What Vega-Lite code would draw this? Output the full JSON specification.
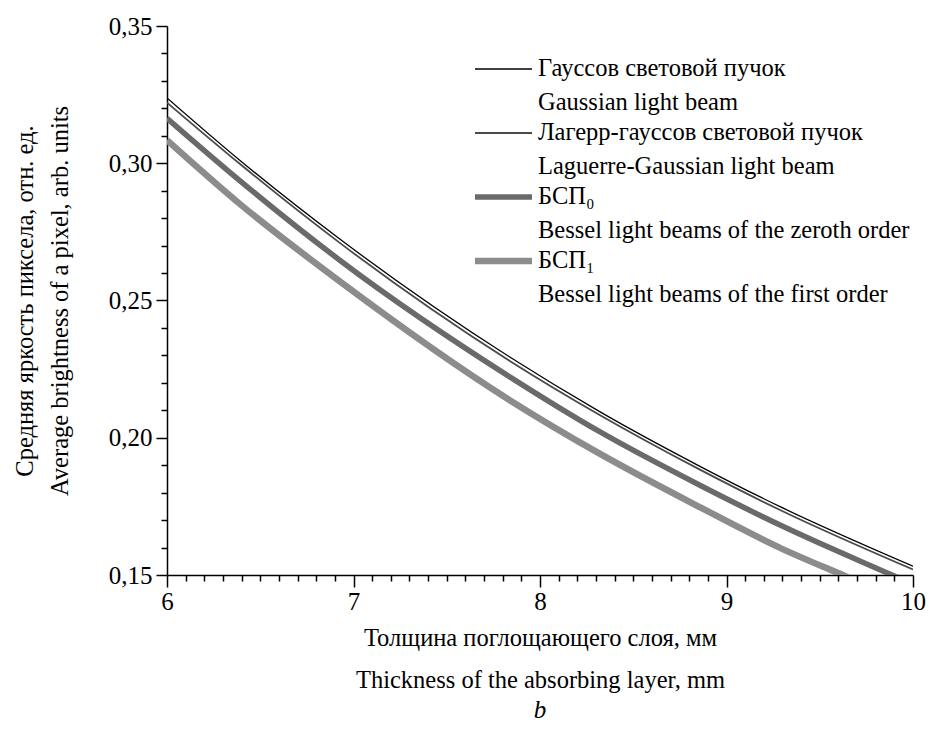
{
  "$schema": "https://vega.github.io/schema/vega-lite/v6.json",
  "autosize": {"type": "none"},
  "padding": {"left": 167, "top": 26, "right": 17, "bottom": 156},
  "width": 746,
  "height": 549,
  "background": "white",
  "config": {
    "font": "Liberation Serif, Times New Roman, serif",
    "view": {"stroke": null},
    "axis": {"domainColor": "black", "domainWidth": 1.5, "tickColor": "black", "tickWidth": 1.5, "labelColor": "black", "titleColor": "black", "labelFont": "Liberation Serif, Times New Roman, serif", "titleFont": "Liberation Serif, Times New Roman, serif", "grid": false, "titleFontWeight": "normal"},
    "legend": {"labelFont": "Liberation Serif, Times New Roman, serif"}
  },
  "title": {"text": "b", "orient": "bottom", "fontStyle": "italic", "fontWeight": "normal", "fontSize": 25, "font": "Liberation Serif, Times New Roman, serif", "color": "black", "offset": 6},
  "data": {
    "values": [
      {"x": 6, "y": 0.3238, "s": "G"},
      {"x": 6.39, "y": 0.3011, "s": "G"},
      {"x": 6.93, "y": 0.2722, "s": "G"},
      {"x": 7.84, "y": 0.2293, "s": "G"},
      {"x": 8.32, "y": 0.2095, "s": "G"},
      {"x": 8.86, "y": 0.1895, "s": "G"},
      {"x": 9.29, "y": 0.1748, "s": "G"},
      {"x": 10, "y": 0.1532, "s": "G"},
      {"x": 6, "y": 0.3221, "s": "LG"},
      {"x": 6.39, "y": 0.2998, "s": "LG"},
      {"x": 6.93, "y": 0.2708, "s": "LG"},
      {"x": 7.84, "y": 0.2279, "s": "LG"},
      {"x": 8.32, "y": 0.2083, "s": "LG"},
      {"x": 8.86, "y": 0.1883, "s": "LG"},
      {"x": 9.29, "y": 0.1736, "s": "LG"},
      {"x": 10, "y": 0.1520, "s": "LG"},
      {"x": 6, "y": 0.3164, "s": "B0"},
      {"x": 6.39, "y": 0.2937, "s": "B0"},
      {"x": 6.93, "y": 0.2645, "s": "B0"},
      {"x": 7.84, "y": 0.2221, "s": "B0"},
      {"x": 8.32, "y": 0.2022, "s": "B0"},
      {"x": 8.86, "y": 0.1826, "s": "B0"},
      {"x": 9.29, "y": 0.1681, "s": "B0"},
      {"x": 9.9, "y": 0.1496, "s": "B0"},
      {"x": 10, "y": 0.1466, "s": "B0"},
      {"x": 6, "y": 0.3084, "s": "B1"},
      {"x": 6.39, "y": 0.2852, "s": "B1"},
      {"x": 6.93, "y": 0.2568, "s": "B1"},
      {"x": 7.84, "y": 0.2136, "s": "B1"},
      {"x": 8.32, "y": 0.1942, "s": "B1"},
      {"x": 8.86, "y": 0.1746, "s": "B1"},
      {"x": 9.29, "y": 0.1598, "s": "B1"},
      {"x": 9.65, "y": 0.1492, "s": "B1"},
      {"x": 10, "y": 0.1390, "s": "B1"}
    ]
  },
  "mark": {"type": "line", "interpolate": "monotone", "clip": true},
  "encoding": {
    "x": {
      "field": "x", "type": "quantitative",
      "scale": {"domain": [6, 10], "nice": false, "zero": false},
      "axis": {
        "values": [6,6.1,6.2,6.3,6.4,6.5,6.6,6.7,6.8,6.9,7,7.1,7.2,7.3,7.4,7.5,7.6,7.7,7.8,7.9,8,8.1,8.2,8.3,8.4,8.5,8.6,8.7,8.8,8.9,9,9.1,9.2,9.3,9.4,9.5,9.6,9.7,9.8,9.9,10],
        "tickSize": {"expr": "abs(round(datum.value*10)) % 10 == 0 ? 12 : 6"},
        "labelExpr": "abs(round(datum.value*10)) % 10 == 0 ? format(datum.value, 'd') : ''",
        "labelOverlap": false,
        "labelFontSize": 25,
        "labelPadding": 2,
        "labelFlush": false,
        "title": ["Толщина поглощающего слоя, мм", "Thickness of the absorbing layer, mm"],
        "titleFontSize": 24.5,
        "titleLineHeight": 42,
        "titlePadding": 12
      }
    },
    "y": {
      "field": "y", "type": "quantitative",
      "scale": {"domain": [0.15, 0.35], "nice": false, "zero": false},
      "axis": {
        "values": [0.15,0.16,0.17,0.18,0.19,0.2,0.21,0.22,0.23,0.24,0.25,0.26,0.27,0.28,0.29,0.3,0.31,0.32,0.33,0.34,0.35],
        "tickSize": {"expr": "abs(round(datum.value*100)) % 5 == 0 ? 11 : 6"},
        "labelExpr": "abs(round(datum.value*100)) % 5 == 0 ? replace(format(datum.value, '.2f'), '.', ',') : ''",
        "labelOverlap": false,
        "labelFontSize": 25,
        "labelPadding": 4,
        "labelFlush": false,
        "title": ["Средняя яркость пиксела, отн. ед.", "Average brightness of a pixel, arb. units"],
        "titleFontSize": 24.5,
        "titleLineHeight": 35,
        "titlePadding": 36
      }
    },
    "color": {
      "field": "s", "type": "ordinal",
      "scale": {"domain": ["G", "LG", "B0", "B1"], "range": ["#000000", "#4a4a4a", "#6a6a6a", "#8c8c8c"]},
      "legend": {
        "title": null,
        "orient": "none",
        "legendX": 340.5,
        "legendY": 30.75,
        "symbolSize": 576,
        "symbolStrokeWidth": 0,
        "labelFontSize": 24.5,
        "labelColor": "black",
        "labelOffset": 6,
        "labelLimit": 600,
        "labelBaseline": "top",
        "rowPadding": 5,
        "labelExpr": "datum.value == 'G' ? ['Гауссов световой пучок', 'Gaussian light beam'] : datum.value == 'LG' ? ['Лагерр-гауссов световой пучок', 'Laguerre-Gaussian light beam'] : datum.value == 'B0' ? ['БСП₀', 'Bessel light beams of the zeroth order'] : ['БСП₁', 'Bessel light beams of the first order']",
        "encode": {
          "labels": {"update": {"lineHeight": {"value": 34}, "dy": {"value": -12}}},
          "symbols": {"update": {
            "shape": {"signal": "datum.value == 'B0' ? 'M-3.73,-0.229H1.02V0.229H-3.73Z' : datum.value == 'B1' ? 'M-3.73,-0.271H1.02V0.271H-3.73Z' : datum.value == 'LG' ? 'M-3.73,-0.075H1.02V0.075H-3.73Z' : 'M-3.73,-0.054H1.02V0.054H-3.73Z'"},
            "fill": {"scale": "color", "field": "value"},
            "fillOpacity": {"value": 1},
            "opacity": {"value": 1}
          }}
        }
      }
    },
    "strokeWidth": {
      "condition": [
        {"test": "datum.s == 'B0'", "value": 5.5},
        {"test": "datum.s == 'B1'", "value": 6.5},
        {"test": "datum.s == 'LG'", "value": 1.8}
      ],
      "value": 1.3
    }
  }
}
